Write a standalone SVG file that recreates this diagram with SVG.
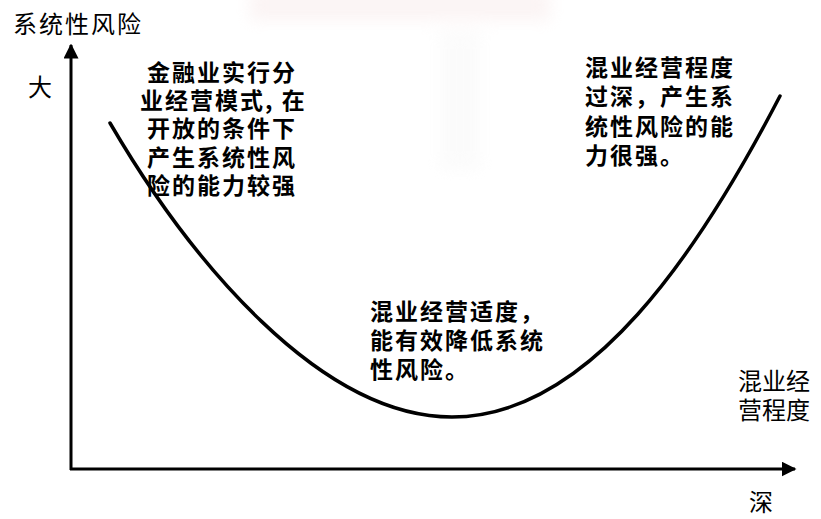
<svg xmlns="http://www.w3.org/2000/svg" width="821" height="519" viewBox="0 0 821 519">
<style>
.t{font-family:"Noto Sans CJK SC","Noto Sans",sans-serif;fill:#000;}
.b{font-weight:bold;font-size:23px;letter-spacing:2px;}
.n{font-weight:normal;font-size:24px;}
.ax{stroke:#000;stroke-width:3;fill:none;}
.cv{stroke:#000;stroke-width:3.5;fill:none;stroke-linecap:round;}
</style>
<defs>
<marker id="arr" viewBox="0 0 10 10" refX="9" refY="5" markerWidth="5" markerHeight="5" orient="auto" markerUnits="strokeWidth">
<path d="M0,0 L10,5 L0,10 Z" fill="#000"/>
</marker>
<filter id="blur"><feGaussianBlur stdDeviation="8"/></filter>
</defs>
<rect width="821" height="519" fill="#fff"/>
<g id="watermark" filter="url(#blur)" opacity="0.4">
<rect x="250" y="-10" width="300" height="30" fill="#f6e4e4"/>
<rect x="440" y="30" width="40" height="140" fill="#f6f6f6"/>
</g>
<g id="axes">
<path class="ax" d="M71,470 L71,45" marker-end="url(#arr)"/>
<path class="ax" d="M70,469 L795,469" marker-end="url(#arr)"/>
</g>
<g id="curve">
<path class="cv" d="M110,123 C190,260 320,417 452,417 C590,417 700,250 780,96"/>
</g>
<g id="y-label">
<text class="t n" x="13" y="33" style="letter-spacing:2px">系统性风险</text>
<text class="t n" x="28" y="96">大</text>
</g>
<g id="x-label">
<text class="t n"><tspan x="738" y="390">混业经</tspan><tspan x="738" y="419">营程度</tspan></text>
<text class="t n" x="749" y="511" font-weight="bold" font-size="23">深</text>
</g>
<g id="left-note">
<text class="t b"><tspan x="147" y="81">金融业实行分</tspan><tspan x="140" y="109">业经营模式, 在</tspan><tspan x="147" y="137">开放的条件下</tspan><tspan x="147" y="166">产生系统性风</tspan><tspan x="147" y="194">险的能力较强</tspan></text>
</g>
<g id="right-note">
<text class="t b"><tspan x="585" y="76">混业经营程度</tspan><tspan x="585" y="105">过深，产生系</tspan><tspan x="585" y="135">统性风险的能</tspan><tspan x="585" y="164">力很强。</tspan></text>
</g>
<g id="mid-note">
<text class="t b"><tspan x="370" y="320">混业经营适度，</tspan><tspan x="370" y="349">能有效降低系统</tspan><tspan x="370" y="378">性风险。</tspan></text>
</g>
</svg>
